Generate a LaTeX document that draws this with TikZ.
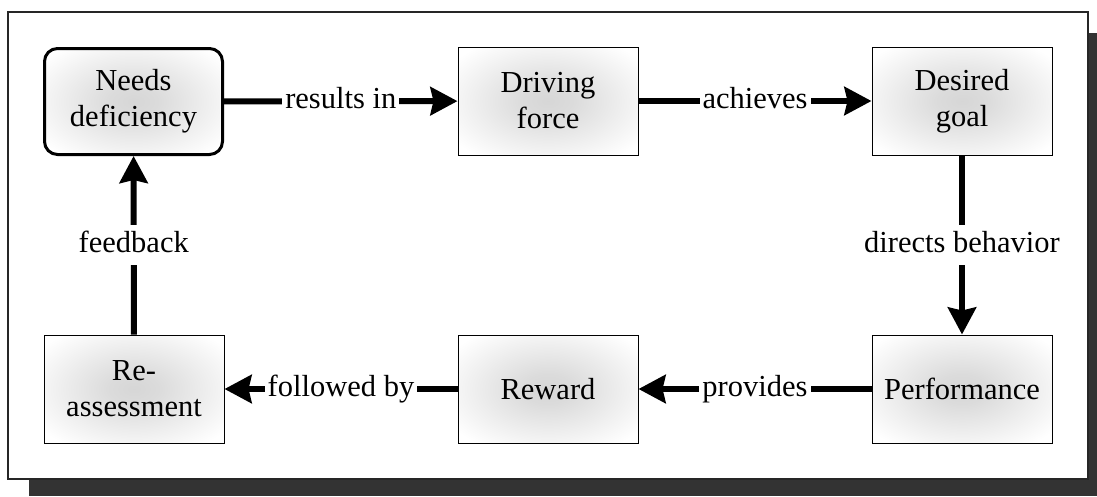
\documentclass[tikz,border=0pt]{standalone}
\usepackage{fontspec}
\setmainfont{Liberation Serif}
\usetikzlibrary{arrows.meta}
\pgfdeclareradialshading{boxshade}{\pgfpoint{0bp}{0bp}}{color(0bp)=(black!16); color(7bp)=(black!14); color(32bp)=(white); color(50bp)=(white)}
\begin{document}
\begin{tikzpicture}[x=1pt,y=-1pt,
  font=\fontsize{30.5}{36}\selectfont,
  box/.style={draw=black, line width=1pt, shade, shading=boxshade, minimum width=180pt, minimum height=108pt, align=center, inner sep=0pt},
  rbox/.style={box, line width=3pt, rounded corners=13pt, minimum width=178pt, minimum height=106pt},
  arr/.style={line width=6pt, -{Stealth[length=27pt,width=28pt,inset=3pt]}},
  lbl/.style={fill=white, inner xsep=3pt, inner ysep=6pt, text height=21pt, text depth=7pt}]
\useasboundingbox (0,0) rectangle (1097,496);
\fill[black!80] (29,33) rectangle (1097,496);
\draw[line width=1.5pt, draw=black!85, fill=white] (8,12) rectangle (1088,479);
\node[rbox] (needs) at (133.5,101.5) {Needs\\deficiency};
\node[box] (drive) at (548,101) {Driving\\force};
\node[box] (goal) at (962,101) {Desired\\goal};
\node[box] (reass) at (134,389) {Re-\\assessment};
\node[box] (reward) at (548,389) {Reward};
\node[box] (perf) at (962,389) {Performance};
\draw[arr] (needs) -- node[lbl] (l1) {results in} (drive);
\draw[arr] (drive) -- node[lbl] (l2) {achieves} (goal);
\draw[arr] (goal) -- node[lbl] (l3) {directs behavior} (perf);
\draw[arr] (perf) -- node[lbl] (l4) {provides} (reward);
\draw[arr] (reward) -- node[lbl] (l5) {followed by} (reass);
\draw[arr] (reass) -- node[lbl] (l6) {feedback} (needs);
\end{tikzpicture}
\end{document}
